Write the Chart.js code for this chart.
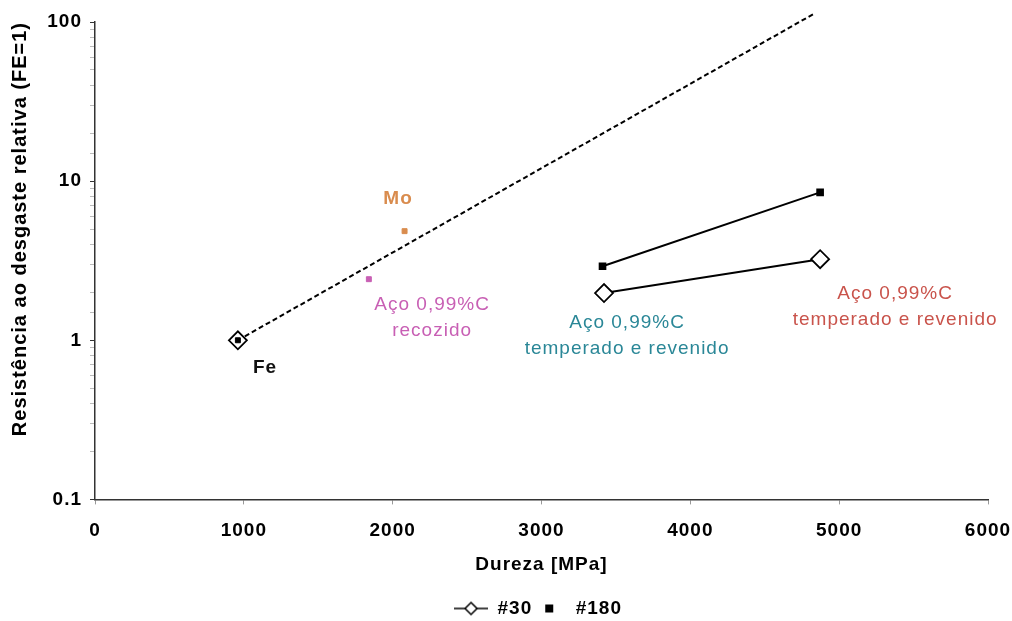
<!DOCTYPE html>
<html>
<head>
<meta charset="utf-8">
<script src="https://cdn.jsdelivr.net/npm/chart.js@4"></script>
<style>
  html, body { margin: 0; padding: 0; background: #fff; }
  #wrap { width: 1012px; height: 621px; }
</style>
</head>
<body>
<div id="wrap"><canvas id="chart" width="1012" height="621"></canvas></div>
<script>
// ─── Data ────────────────────────────────────────────────────────────────
const X_TICKS   = [0, 1000, 2000, 3000, 4000, 5000, 6000];
const Y_TICKS   = [0.1, 1, 10, 100];

// #30 abrasive (open diamonds)
const fe30X     = [960];
const fe30Y     = [1.0];
const temp30X   = [3420, 4872];
const temp30Y   = [1.98, 3.23];

// #180 abrasive (small squares)
const temp180X  = [3410, 4872];
const temp180Y  = [2.92, 8.5];
const pure180X  = [960, 2080, 1840];          // Fe, Mo, aço recozido
const pure180Y  = [1.0, 4.85, 2.42];
const pure180C  = ["#000000", "#d98c4e", "#c85fb4"];

// dashed trend through pure metals
const trendX    = [960, 4840];
const trendY    = [1.0, 114];

// text notes: [lines, x, y, colour, weight]
const NOTES = [
  [["Mo"], 2036, 7.7, "#d98c4e", "600"],
  [["Aço 0,99%C", "recozido"], 2265, 1.66, "#c85fb4", "normal"],
  [["Fe"], 1142, 0.676, "#111111", "bold"],
  [["Aço 0,99%C", "temperado e revenido"], 3575, 1.28, "#2a8797", "normal"],
  [["Aço 0,99%C", "temperado e revenido"], 5376, 1.97, "#c9534b", "normal"],
];

const FONT = "'Liberation Sans', Arial, sans-serif";

// ─── Helpers ─────────────────────────────────────────────────────────────
function pts(xs, ys) {
  return xs.map((x, i) => ({ x: x, y: ys[i] }));
}

function legendIcon(kind) {
  const c = document.createElement("canvas");
  c.width = 34; c.height = 16;
  const g = c.getContext("2d");
  g.strokeStyle = "#000";
  g.lineWidth = 1.5;
  if (kind === "diamond") {
    g.beginPath(); g.moveTo(0, 8); g.lineTo(34, 8); g.stroke();
    g.fillStyle = "#fff";
    g.beginPath();
    g.moveTo(17, 2); g.lineTo(23, 8); g.lineTo(17, 14); g.lineTo(11, 8); g.closePath();
    g.fill(); g.stroke();
  } else {
    g.fillStyle = "#000";
    g.fillRect(13, 4, 8, 8);
  }
  return c;
}

// ─── Plugins ─────────────────────────────────────────────────────────────
// the source figure's lettering is a little wide: add 1px tracking everywhere
const trackingPlugin = {
  id: "tracking",
  beforeLayout(chart) { chart.ctx.letterSpacing = "1px"; },
  beforeDraw(chart) { chart.ctx.letterSpacing = "1px"; },
  afterLayout(chart) { chart.legend.left += 28; chart.legend.right += 28; },
};

const notesPlugin = {
  id: "notes",
  afterDatasetsDraw(chart) {
    const { ctx, scales } = chart;
    ctx.save();
    ctx.textAlign = "center";
    ctx.textBaseline = "middle";
    NOTES.forEach(([lines, x, y, color, weight]) => {
      const px = scales.x.getPixelForValue(x);
      const py = scales.y.getPixelForValue(y);
      ctx.font = weight + " 19px " + FONT;
      ctx.fillStyle = color;
      lines.forEach((t, i) => ctx.fillText(t, px, py + i * 26));
    });
    ctx.restore();
  },
};

// ─── Chart ───────────────────────────────────────────────────────────────
const diamond = {
  pointStyle: "rectRot",
  pointRadius: 9,
  pointHoverRadius: 9,
  pointBackgroundColor: "#ffffff",
  pointBorderColor: "#000000",
  pointBorderWidth: 1.8,
};

new Chart(document.getElementById("chart"), {
  type: "line",
  data: {
    datasets: [
      { label: "#180", data: pts(temp180X, temp180Y), borderColor: "#000", borderWidth: 2,
        pointStyle: "rect", pointRadius: 4, pointBackgroundColor: "#000", pointBorderColor: "#000", order: 1 },
      { label: "#180-pure", data: pts(pure180X, pure180Y), showLine: false,
        pointStyle: "rect", pointRadius: 3.5, pointBackgroundColor: pure180C, pointBorderColor: pure180C, order: 1 },
      { label: "#30", data: pts(temp30X, temp30Y), borderColor: "#000", borderWidth: 2, ...diamond, order: 2 },
      { label: "#30-fe", data: pts(fe30X, fe30Y), showLine: false, ...diamond, order: 2 },
      { label: "trend", data: pts(trendX, trendY), borderColor: "#000", borderWidth: 2,
        borderDash: [5, 3], pointRadius: 0, clip: false, order: 3 },
    ],
  },
  options: {
    responsive: false,
    animation: false,
    layout: { padding: { top: 22, right: 0, left: 8, bottom: -7 } },
    plugins: {
      tooltip: { enabled: false },
      legend: {
        position: "bottom",
        labels: {
          color: "#000",
          font: { family: FONT, size: 19, weight: "bold" },
          usePointStyle: true,
          pointStyleWidth: 34,
          padding: 0,
          filter: item => item.text === "#30" || item.text === "#180",
          generateLabels: chart => {
            const items = Chart.defaults.plugins.legend.labels.generateLabels(chart);
            items.forEach(it => {
              it.pointStyle = legendIcon(it.text === "#30" ? "diamond" : "square");
            });
            return items.sort((a, b) => (a.text === "#30" ? -1 : 1));
          },
        },
      },
    },
    scales: {
      x: {
        type: "linear",
        min: X_TICKS[0],
        max: X_TICKS[X_TICKS.length - 1],
        afterBuildTicks: s => { s.ticks = X_TICKS.map(v => ({ value: v })); },
        afterFit: s => { s.paddingRight = 24; },
        ticks: { color: "#000", font: { family: FONT, size: 19, weight: "bold" }, padding: 15,
                 callback: v => String(v) },
        grid: { drawOnChartArea: false, tickLength: 5, color: "#999" },
        border: { display: true, color: "#333", width: 1.5 },
        title: { display: true, text: "Dureza [MPa]", color: "#000",
                 font: { family: FONT, size: 19, weight: "bold" }, padding: { top: -4, bottom: 23 } },
      },
      y: {
        type: "logarithmic",
        min: Y_TICKS[0],
        max: Y_TICKS[Y_TICKS.length - 1],
        afterFit: s => { s.width = 87; },
        ticks: {
          color: "#000",
          font: { family: FONT, size: 19, weight: "bold" },
          autoSkip: false,
          padding: 8,
          callback: v => (Y_TICKS.includes(v) ? String(v) : ""),
        },
        grid: {
          drawOnChartArea: false,
          tickLength: 5,
          color: c => (Y_TICKS.includes(c.tick && c.tick.value) ? "#333" : "#bbb"),
        },
        border: { display: true, color: "#333", width: 1.5 },
        title: { display: true, text: "Resistência ao desgaste relativa (FE=1)", color: "#000",
                 align: "end",
                 font: { family: FONT, size: 20, weight: "bold" }, padding: 0 },
      },
    },
  },
  plugins: [trackingPlugin, notesPlugin],
});
</script>
</body>
</html>
